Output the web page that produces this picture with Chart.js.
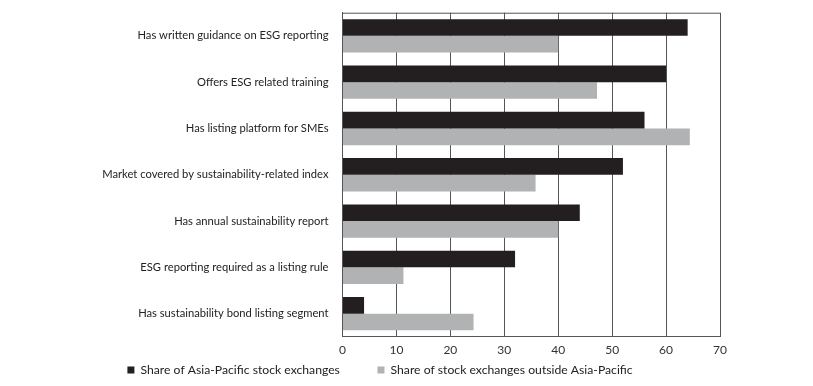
<!DOCTYPE html>
<html>
<head>
<meta charset="utf-8">
<script src="https://cdn.jsdelivr.net/npm/chart.js@4"></script>
<style>
  html, body { margin: 0; padding: 0; background: #fff; }
  #wrap { width: 813px; height: 386px; }
</style>
</head>
<body>
<div id="wrap"><canvas id="esg-chart"></canvas></div>
<script>
const categories = [
  'Has written guidance on ESG reporting',
  'Offers ESG related training',
  'Has listing platform for SMEs',
  'Market covered by sustainability-related index',
  'Has annual sustainability report',
  'ESG reporting required as a listing rule',
  'Has sustainability bond listing segment'
]
const asiaPacific = [64, 60, 56, 52, 44, 32, 4]
const outsideAsiaPacific = [40, 47.2, 64.4, 35.8, 40, 11.3, 24.3]
const xTicks = [0, 10, 20, 30, 40, 50, 60, 70]

const fontFamily = 'Lato, "Open Sans", sans-serif'

// top edge of the plot frame
const framePlugin = {
  id: 'frame',
  afterDraw (chart) {
    const { ctx, chartArea } = chart
    ctx.save()
    ctx.strokeStyle = '#555'
    ctx.lineWidth = 1
    ctx.beginPath()
    ctx.moveTo(chartArea.left, chartArea.top + 0.5)
    ctx.lineTo(chartArea.right, chartArea.top + 0.5)
    ctx.stroke()
    ctx.restore()
  }
}

const ctx = document.getElementById('esg-chart').getContext('2d')
new Chart(ctx, {
  type: 'bar',
  data: {
    labels: categories,
    datasets: [
      {
        // em spaces widen the gap between the two legend items
        label: 'Share of Asia-Pacific stock exchanges\u2003\u2003\u2003\u2003',
        data: asiaPacific,
        backgroundColor: '#231f20',
        barPercentage: 1,
        categoryPercentage: 0.72
      },
      {
        label: 'Share of stock exchanges outside Asia-Pacific',
        data: outsideAsiaPacific,
        backgroundColor: '#b1b2b4',
        barPercentage: 1,
        categoryPercentage: 0.72
      }
    ]
  },
  options: {
    indexAxis: 'y',
    responsive: true,
    maintainAspectRatio: false,
    animation: false,
    layout: {
      padding: { left: 40, right: 93, top: 12, bottom: 0 }
    },
    scales: {
      x: {
        min: 0,
        max: 70,
        afterBuildTicks (axis) {
          axis.ticks = xTicks.map(v => ({ value: v }))
        },
        grid: {
          color: '#555',
          lineWidth: 1,
          drawTicks: false
        },
        border: { color: '#555', width: 1 },
        ticks: {
          color: '#333',
          padding: 7,
          font: { family: fontFamily, size: 12, lineHeight: 1 }
        }
      },
      y: {
        afterFit (axis) {
          axis.width = 302.5
        },
        grid: { display: false },
        border: { display: true, color: '#555', width: 1 },
        ticks: {
          color: '#222',
          padding: 6,
          font: { family: fontFamily, size: 11.2 }
        }
      }
    },
    plugins: {
      legend: {
        position: 'bottom',
        labels: {
          boxWidth: 7,
          boxHeight: 7,
          padding: 1,
          color: '#222',
          font: { family: fontFamily, size: 12.2, lineHeight: 1 }
        }
      },
      tooltip: { enabled: false }
    }
  },
  plugins: [framePlugin]
})
</script>
</body>
</html>
